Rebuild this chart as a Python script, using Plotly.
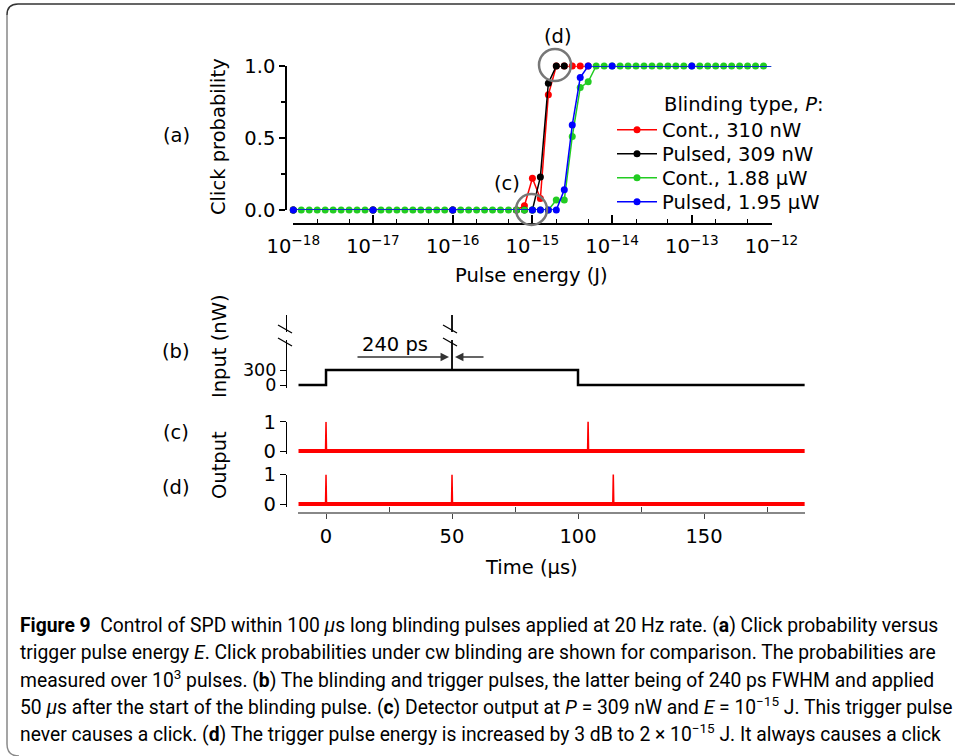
import plotly.graph_objects as go

W, H = 955, 756


def X(px):
    return px / W


def Y(py):
    return 1 - py / H


# ---------------- data: panel (a) ----------------
# exponent of pulse energy (J) -> E = 10**exp
green_exp = [-18.0, -17.9, -17.8, -17.7, -17.6, -17.5, -17.4, -17.3, -17.2, -17.1,
             -17.0, -16.9, -16.8, -16.7, -16.6, -16.5, -16.4, -16.3, -16.2, -16.1,
             -16.0, -15.9, -15.8, -15.7, -15.6, -15.5, -15.4, -15.3, -15.2, -15.1,
             -15.0, -14.9, -14.8, -14.7, -14.6, -14.5, -14.4, -14.3, -14.2, -14.1,
             -14.0, -13.9, -13.8, -13.7, -13.6, -13.5, -13.4, -13.3, -13.2, -13.1,
             -13.0, -12.9, -12.8, -12.7, -12.6, -12.5, -12.4, -12.3, -12.2, -12.1,
             -12.0]
green_p = [0, 0, 0, 0, 0, 0, 0, 0, 0, 0,
           0, 0, 0, 0, 0, 0, 0, 0, 0, 0,
           0, 0, 0, 0, 0, 0, 0, 0, 0, 0,
           0, 0, 0, 0.07, 0.07, 0.51, 0.85, 0.89, 1, 1,
           1, 1, 1, 1, 1, 1, 1, 1, 1, 1,
           1, 1, 1, 1, 1, 1, 1, 1, 1, 1,
           1]
red_exp = [-18, -17, -16, -15.2, -15.1, -15.0, -14.9, -14.8, -14.7, -14.6, -14.5, -14.4, -14.3]
red_p = [0, 0, 0, 0, 0.03, 0.22, 0.08, 0.80, 1, 1, 1, 1, 1]
black_exp = [-18, -17, -16, -15.2, -15.1, -15.0, -14.9, -14.8, -14.7, -14.6]
black_p = [0, 0, 0, 0, 0, 0, 0.23, 0.88, 1, 1]
blue_exp = [-18, -17, -16, -15.0, -14.9, -14.8, -14.7, -14.6, -14.5, -14.4, -14.3, -14, -13, -12]
blue_p = [0, 0, 0, 0, 0, 0, 0, 0.14, 0.59, 0.92, 1, 1, 1, 1]

series_names = ["Cont., 310 nW", "Pulsed, 309 nW", "Cont., 1.88 µW", "Pulsed, 1.95 µW"]
series_colors = ["#ff0000", "#000000", "#22cc22", "#0000ff"]

x_tickvals = [1e-18, 1e-17, 1e-16, 1e-15, 1e-14, 1e-13, 1e-12]
x_ticktext = ["10<sup>−18</sup>", "10<sup>−17</sup>", "10<sup>−16</sup>", "10<sup>−15</sup>",
              "10<sup>−14</sup>", "10<sup>−13</sup>", "10<sup>−12</sup>"]

# ---------------- data: panels (b)-(d) ----------------
# (b) blinding pulse (nW) vs time (µs)
blind_t = [-11, 0, 0, 100, 100, 190]
blind_p = [0, 0, 300, 300, 0, 0]
trig_t = [50, 50]
trig_p = [300, 1400]          # broken axis: drawn to the top of the axis
# (c) detector output, E = 1e-15 J
c_base_t = [-11, 190]
c_base_v = [0, 0]
c_spike_t = [-0.2, 0, 0.2, 103.8, 104, 104.2]
c_spike_v = [0, 1, 0, 0, 1.05, 0]
# (d) detector output, E = 2e-15 J
d_base_t = [-11, 190]
d_base_v = [0, 0]
d_spike_t = [-0.2, 0, 0.2, 49.8, 50, 50.2, 113.8, 114, 114.2]
d_spike_v = [0, 1, 0, 0, 1, 0, 0, 1.05, 0]

FONT = "DejaVu Sans"
CAP_FONT = "Roboto"
FS = 19.5

fig = go.Figure()

exps = [red_exp, black_exp, green_exp, blue_exp]
probs = [red_p, black_p, green_p, blue_p]
legend_ids = ["legend", "legend2", "legend3", "legend4"]
for name, col, ex, pr, lg in zip(series_names, series_colors, exps, probs, legend_ids):
    fig.add_trace(go.Scatter(
        x=[10 ** e for e in ex], y=pr, name=name, mode="lines+markers",
        line=dict(color=col, width=1.5), marker=dict(color=col, size=7),
        cliponaxis=False, xaxis="x", yaxis="y", legend=lg))

fig.add_trace(go.Scatter(x=blind_t, y=blind_p, mode="lines", line=dict(color="black", width=2.5),
                         showlegend=False, cliponaxis=False, xaxis="x2", yaxis="y2"))
fig.add_trace(go.Scatter(x=trig_t, y=trig_p, mode="lines", line=dict(color="black", width=1.8),
                         showlegend=False, cliponaxis=False, xaxis="x2", yaxis="y2"))
for bt, bv, st, sv, ya in [(c_base_t, c_base_v, c_spike_t, c_spike_v, "y3"),
                           (d_base_t, d_base_v, d_spike_t, d_spike_v, "y4")]:
    fig.add_trace(go.Scatter(x=bt, y=bv, mode="lines", line=dict(color="#ff0000", width=4),
                             showlegend=False, cliponaxis=False, xaxis="x2", yaxis=ya))
    fig.add_trace(go.Scatter(x=st, y=sv, mode="lines", line=dict(color="#ff0000", width=1.5),
                             showlegend=False, cliponaxis=False, xaxis="x2", yaxis=ya))

tickfont = dict(family=FONT, size=FS, color="black")


def ydom(py0, py1, lo, hi, pad_px):
    # domain so that value lo sits at pixel py0, hi at py1, with pad below
    per = (py0 - py1) / (hi - lo)
    pad_val = pad_px / per
    return [Y(py0 + pad_px), Y(py1)], [lo - pad_val, hi]


d2, r2 = ydom(385, 315, 0, 1400, 2.5)
d3, r3 = ydom(451, 421.7, 0, 1, 2.5)
d4, r4 = ydom(504, 474.5, 0, 1, 2.5)


def leg(py):
    return dict(x=X(612), y=Y(py), xanchor="left", yanchor="middle", itemwidth=40,
                font=dict(family=FONT, size=FS, color="black"), bgcolor="rgba(0,0,0,0)")


fig.update_layout(
    width=W, height=H, margin=dict(l=0, r=0, t=0, b=0, pad=0, autoexpand=False),
    autosize=False,
    paper_bgcolor="white", plot_bgcolor="white",
    font=dict(family=FONT, size=FS, color="black"),
    showlegend=True,
    legend=leg(130), legend2=leg(154), legend3=leg(178), legend4=leg(202),
    xaxis=dict(type="log", range=[-18, -12], domain=[X(293.3), X(771.5)], automargin=False,
               anchor="free", position=Y(224), showline=True, linecolor="black", linewidth=1.5,
               ticks="inside", ticklen=8, tickwidth=1.5, tickcolor="black",
               tickvals=x_tickvals, ticktext=x_ticktext, tickfont=tickfont, ticklabelstandoff=5,
               minor=dict(ticks="inside", ticklen=4, tickwidth=1, tickcolor="black", showgrid=False),
               showgrid=False, zeroline=False),
    yaxis=dict(range=[0, 1], domain=[Y(210), Y(66)], anchor="free", position=X(286), automargin=False,
               showline=True, linecolor="black", linewidth=1.5,
               ticks="outside", ticklen=6, tickwidth=1.5, tickcolor="black",
               dtick=0.5, tick0=0, tickformat=".1f", tickfont=tickfont,
               minor=dict(ticks="outside", ticklen=4, dtick=0.25, tickcolor="black", showgrid=False),
               showgrid=False, zeroline=False),
    xaxis2=dict(range=[-11, 190], domain=[X(298.3), X(804.8)], anchor="free", position=Y(513),
                automargin=False,
                showline=True, linecolor="#888888", linewidth=2,
                ticks="outside", ticklen=5, tickwidth=1.2, tickcolor="#444444",
                tickvals=[0, 50, 100, 150], tickfont=tickfont, ticklabelstandoff=1,
                minor=dict(ticks="inside", ticklen=5, tickvals=[25, 75, 125, 175], tickcolor="#444444",
                           showgrid=False),
                showgrid=False, zeroline=False),
    yaxis2=dict(range=r2, domain=d2, anchor="free", position=X(286), automargin=False,
                showline=True, linecolor="black", linewidth=1.2,
                ticks="outside", ticklen=6, tickcolor="black", tickvals=[0, 300],
                tickfont=dict(family=FONT, size=17.5, color="black"),
                showgrid=False, zeroline=False),
    yaxis3=dict(range=r3, domain=d3, anchor="free", position=X(286), automargin=False,
                showline=True, linecolor="black", linewidth=1.2,
                ticks="outside", ticklen=6, tickcolor="black", tickvals=[0, 1], tickfont=tickfont,
                showgrid=False, zeroline=False),
    yaxis4=dict(range=r4, domain=d4, anchor="free", position=X(286), automargin=False,
                showline=True, linecolor="black", linewidth=1.2,
                ticks="outside", ticklen=6, tickcolor="black", tickvals=[0, 1], tickfont=tickfont,
                showgrid=False, zeroline=False),
)

ann = []


def txt(px, py, s, size=FS, xanchor="center", angle=0, font=FONT):
    ann.append(dict(x=X(px), y=Y(py), xref="paper", yref="paper", text=s, showarrow=False,
                    xanchor=xanchor, yanchor="middle", textangle=angle,
                    font=dict(family=font, size=size, color="black")))


txt(219, 137, "Click probability", angle=-90)
txt(219, 346, "Input (nW)", angle=-90)
txt(219, 465, "Output", angle=-90)
txt(176, 135, "(a)")
txt(176, 351, "(b)")
txt(176, 432, "(c)")
txt(176, 487, "(d)")
txt(507, 183, "(c)")
txt(558, 36, "(d)")
txt(531, 275, "Pulse energy (J)")
txt(531, 567, "Time (µs)")
txt(662, 104, "Blinding type, <i>P</i>:", xanchor="left")
txt(395, 345, "240 ps")

# arrows for pulse width
ann.append(dict(x=X(449), y=Y(357), ax=-93, ay=0, xref="paper", yref="paper",
                axref="pixel", ayref="pixel", text="", showarrow=True, arrowhead=2,
                arrowsize=1.3, arrowwidth=1.3, arrowcolor="#333333"))
ann.append(dict(x=X(455), y=Y(357), ax=30, ay=0, xref="paper", yref="paper",
                axref="pixel", ayref="pixel", text="", showarrow=True, arrowhead=2,
                arrowsize=1.3, arrowwidth=1.3, arrowcolor="#333333"))

# caption
cap_lines = [
    "<b>Figure 9</b>\u00a0 Control of SPD within 100 <i>μ</i>s long blinding pulses applied at 20 Hz rate. (<b>a</b>) Click probability versus",
    "trigger pulse energy <i>E</i>. Click probabilities under cw blinding are shown for comparison. The probabilities are",
    "measured over 10<sup>3</sup> pulses. (<b>b</b>) The blinding and trigger pulses, the latter being of 240 ps FWHM and applied",
    "50 <i>μ</i>s after the start of the blinding pulse. (<b>c</b>) Detector output at <i>P</i> = 309 nW and <i>E</i> = 10<sup>−15</sup> J. This trigger pulse",
    "never causes a click. (<b>d</b>) The trigger pulse energy is increased by 3 dB to 2 × 10<sup>−15</sup> J. It always causes a click",
]
for i, line in enumerate(cap_lines):
    txt(18, 625 + 27 * i, line, size=19.3, xanchor="left", font=CAP_FONT)

fig.update_layout(annotations=ann)

shapes = []


def circ(cx, cy, r):
    shapes.append(dict(type="circle", xref="paper", yref="paper",
                       x0=X(cx - r), x1=X(cx + r), y0=Y(cy + r), y1=Y(cy - r),
                       line=dict(color="#777777", width=2.5), layer="above"))


circ(531.5, 209.5, 15.5)
circ(555, 65, 16)

# axis breaks
for bx in [285, 450]:
    shapes.append(dict(type="rect", xref="paper", yref="paper", x0=X(bx - 4), x1=X(bx + 4),
                       y0=Y(340), y1=Y(332), fillcolor="white", line=dict(width=0), layer="above"))
    for by in [329, 342]:
        shapes.append(dict(type="line", xref="paper", yref="paper", x0=X(bx - 7), x1=X(bx + 7),
                           y0=Y(by - 4), y1=Y(by + 4), line=dict(color="black", width=1.2),
                           layer="above"))

# frame
shapes.append(dict(type="path", xref="paper", yref="paper",
                   path=f"M {X(955)},{Y(4)} L {X(18)},{Y(4)} Q {X(7)},{Y(4)} {X(7)},{Y(15)}",
                   line=dict(color="#333333", width=1.5), layer="above"))
shapes.append(dict(type="path", xref="paper", yref="paper",
                   path=f"M {X(7)},{Y(15)} L {X(7)},{Y(744)} Q {X(7)},{Y(756)} {X(19)},{Y(756)}",
                   line=dict(color="#888888", width=1.5), layer="above"))
fig.update_layout(shapes=shapes)

fig.write_html("out.html", config={"displayModeBar": False},
               post_script="document.body.style.margin='0';document.body.style.overflow='hidden';")
